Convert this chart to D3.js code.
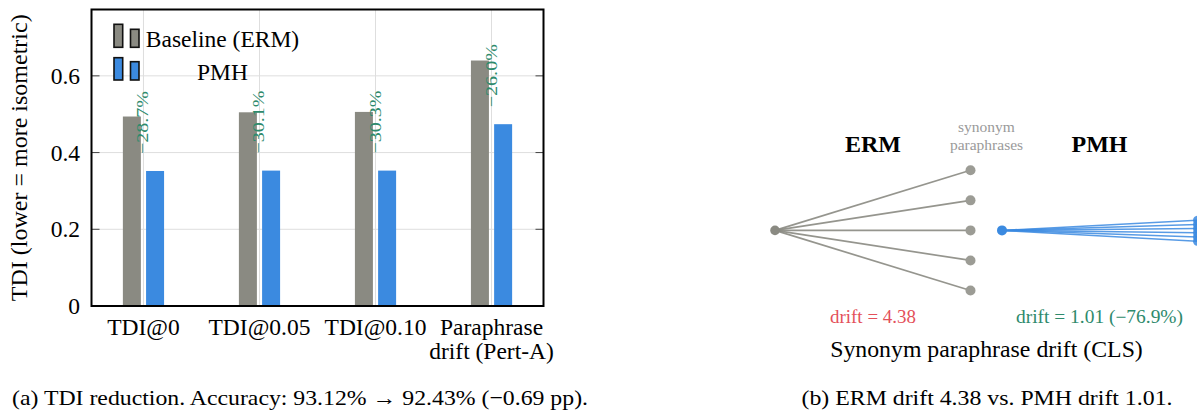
<!DOCTYPE html>
<html>
<head>
<meta charset="utf-8">
<script src="https://cdn.jsdelivr.net/npm/d3@7/dist/d3.min.js"></script>
<style>
  html, body { margin: 0; padding: 0; background: #fff; }
  svg { display: block; }
</style>
</head>
<body>
<svg id="fig" width="1197" height="411"></svg>
<script>
// ---- Panel (a): TDI per setting ----
const categories = [["TDI@0"], ["TDI@0.05"], ["TDI@0.10"], ["Paraphrase", "drift (Pert-A)"]];
const ermValues = [0.494, 0.505, 0.506, 0.640];
const pmhValues = [0.352, 0.353, 0.353, 0.474];
const reductionLabels = ["\u221228.7%", "\u221230.1%", "\u221230.3%", "\u221226.0%"];
const yTicks = [0, 0.2, 0.4, 0.6];
const yTickLabels = ["0", "0.2", "0.4", "0.6"];
const seriesNames = ["Baseline (ERM)", "PMH"];
const yAxisTitle = "TDI (lower = more isometric)";

// ---- Panel (b): paraphrase fan ----
const ermParaphraseOffsets = [-2, -1, 0, 1, 2];
const pmhParaphraseOffsets = [-0.34, -0.2, -0.06, 0.08, 0.22, 0.36];
const driftLabels = ["drift = 4.38", "drift = 1.01 (\u221276.9%)"];
const panelBTitle = "Synonym paraphrase drift (CLS)";

const captions = [
  "(a) TDI reduction. Accuracy: 93.12% \u2192 92.43% (\u22120.69 pp).",
  "(b) ERM drift 4.38 vs. PMH drift 1.01."
];

const C = {
  erm: "#8a8a82",
  ermDot: "#9c9c95",
  pmh: "#3b8ae0",
  green: "#2e8a6c",
  red: "#e4505a",
  grid: "#dedede",
  note: "#9a9a9a"
};

const SERIF = "Liberation Serif";
const svg = d3.select("#fig");

// every text element gets the serif face explicitly
function label(parent) {
  return parent.append("text").attr("font-family", SERIF);
}

// ================= Panel (a) =================
const frame = { left: 91.5, right: 543.5, top: 9.5, bottom: 306 };
const x = d3.scaleLinear().domain([-0.448, categories.length - 1 + 0.448]).range([frame.left, frame.right]);
const y = d3.scaleLinear().domain([0, 0.773]).range([frame.bottom, frame.top]);
const barW = 18, gap = 2.6;

const a = svg.append("g");

// grid
a.append("g").selectAll("line").data(yTicks.filter(d => d > 0)).join("line")
  .attr("x1", frame.left).attr("x2", frame.right)
  .attr("y1", d => y(d)).attr("y2", d => y(d))
  .attr("stroke", C.grid).attr("stroke-width", 1);
a.append("g").selectAll("line").data(categories).join("line")
  .attr("x1", (d, i) => x(i)).attr("x2", (d, i) => x(i))
  .attr("y1", frame.top).attr("y2", frame.bottom)
  .attr("stroke", C.grid).attr("stroke-width", 1);

// bars
a.append("g").selectAll("rect").data(ermValues).join("rect")
  .attr("x", (d, i) => x(i) - gap - barW).attr("width", barW)
  .attr("y", d => y(d)).attr("height", d => y(0) - y(d))
  .attr("fill", C.erm);
a.append("g").selectAll("rect").data(pmhValues).join("rect")
  .attr("x", (d, i) => x(i) + gap).attr("width", barW)
  .attr("y", d => y(d)).attr("height", d => y(0) - y(d))
  .attr("fill", C.pmh);

// reduction labels
a.append("g").selectAll("text").data(reductionLabels).join("text")
  .attr("font-family", SERIF)
  .attr("transform", (d, i) => `translate(${x(i) - 0.5},${y(pmhValues[i]) - 17}) rotate(-90)`)
  .attr("text-anchor", "start").attr("dominant-baseline", "central")
  .attr("font-size", 17).attr("fill", C.green)
  .attr("textLength", 63).attr("lengthAdjust", "spacingAndGlyphs")
  .text(d => d);

// tick marks (left and right, inward)
const tickG = a.append("g").attr("stroke", "#444").attr("stroke-width", 1);
yTicks.filter(d => d > 0).forEach(t => {
  tickG.append("line").attr("x1", frame.left).attr("x2", frame.left + 8).attr("y1", y(t)).attr("y2", y(t));
  tickG.append("line").attr("x1", frame.right - 8).attr("x2", frame.right).attr("y1", y(t)).attr("y2", y(t));
});

// frame
a.append("rect")
  .attr("x", frame.left).attr("y", frame.top)
  .attr("width", frame.right - frame.left).attr("height", frame.bottom - frame.top)
  .attr("fill", "none").attr("stroke", "#000").attr("stroke-width", 2);

// y tick labels
a.append("g").selectAll("text").data(yTicks).join("text")
  .attr("font-family", SERIF)
  .attr("x", 80).attr("y", d => y(d)).attr("dy", "0.34em")
  .attr("text-anchor", "end").attr("font-size", 23.5)
  .text((d, i) => yTickLabels[i]);

// x tick labels
const xl = a.append("g").selectAll("text").data(categories).join("text")
  .attr("font-family", SERIF)
  .attr("text-anchor", "middle").attr("font-size", 23.5)
  .attr("x", (d, i) => x(i)).attr("y", 335);
xl.selectAll("tspan").data(d => d).join("tspan")
  .attr("font-family", SERIF)
  .attr("x", function () { return d3.select(this.parentNode).attr("x"); })
  .attr("dy", (d, j) => j === 0 ? 0 : 23.5)
  .text(d => d);

// y axis title
label(a)
  .attr("transform", `translate(27,${(frame.top + frame.bottom) / 2}) rotate(-90)`)
  .attr("text-anchor", "middle").attr("font-size", 24)
  .text(yAxisTitle);

// legend
const legend = a.append("g");
const legendRows = [
  { fill: C.erm, top1: 24.3, top2: 29.3, bottom: 47.3 },
  { fill: C.pmh, top1: 57.7, top2: 61.7, bottom: 80 }
];
legendRows.forEach(r => {
  legend.append("rect").attr("x", 114).attr("y", r.top1).attr("width", 8.7).attr("height", r.bottom - r.top1)
    .attr("fill", r.fill).attr("stroke", "#111").attr("stroke-width", 1.6);
  legend.append("rect").attr("x", 130.5).attr("y", r.top2).attr("width", 8.5).attr("height", r.bottom - r.top2)
    .attr("fill", r.fill).attr("stroke", "#111").attr("stroke-width", 1.6);
});
label(legend).attr("x", 222.5).attr("y", 47.3).attr("text-anchor", "middle")
  .attr("font-size", 23.5).text(seriesNames[0]);
label(legend).attr("x", 222.5).attr("y", 80).attr("text-anchor", "middle")
  .attr("font-size", 23.5).text(seriesNames[1]);

// ================= Panel (b) =================
const b = svg.append("g");
const fanY = d3.scaleLinear().domain([-2, 2]).range([170.3, 290.5]);
const fanLen = 195.5;
const ermOrigin = { x: 775, y: fanY(0) };
const pmhOrigin = { x: 1002, y: fanY(0) };

// ERM fan
b.append("g").selectAll("line").data(ermParaphraseOffsets).join("line")
  .attr("x1", ermOrigin.x).attr("y1", ermOrigin.y)
  .attr("x2", ermOrigin.x + fanLen).attr("y2", d => fanY(d))
  .attr("stroke", C.erm).attr("stroke-width", 1.7).attr("stroke-opacity", 0.9);
b.append("g").selectAll("circle").data(ermParaphraseOffsets).join("circle")
  .attr("cx", ermOrigin.x + fanLen).attr("cy", d => fanY(d)).attr("r", 5)
  .attr("fill", C.ermDot);
b.append("circle").attr("cx", ermOrigin.x).attr("cy", ermOrigin.y).attr("r", 4.8).attr("fill", C.erm);

// PMH fan
b.append("g").selectAll("line").data(pmhParaphraseOffsets).join("line")
  .attr("x1", pmhOrigin.x).attr("y1", pmhOrigin.y)
  .attr("x2", pmhOrigin.x + fanLen).attr("y2", d => fanY(d))
  .attr("stroke", C.pmh).attr("stroke-width", 1.5).attr("stroke-opacity", 0.85);
b.append("g").selectAll("circle").data(pmhParaphraseOffsets).join("circle")
  .attr("cx", pmhOrigin.x + fanLen).attr("cy", d => fanY(d)).attr("r", 4.5)
  .attr("fill", C.pmh).attr("fill-opacity", 0.85);
b.append("circle").attr("cx", pmhOrigin.x).attr("cy", pmhOrigin.y).attr("r", 5).attr("fill", C.pmh);

// headings
label(b).attr("x", 873).attr("y", 152).attr("text-anchor", "middle")
  .attr("font-size", 24).attr("font-weight", "bold").text("ERM");
label(b).attr("x", 1099.5).attr("y", 152).attr("text-anchor", "middle")
  .attr("font-size", 24).attr("font-weight", "bold").text("PMH");
label(b).attr("x", 986.5).attr("y", 132).attr("text-anchor", "middle")
  .attr("font-size", 15.5).attr("fill", C.note).text("synonym");
label(b).attr("x", 986.5).attr("y", 149.5).attr("text-anchor", "middle")
  .attr("font-size", 15.5).attr("fill", C.note).text("paraphrases");

// drift values
label(b).attr("x", 873).attr("y", 323).attr("text-anchor", "middle")
  .attr("font-size", 18).attr("fill", C.red)
  .attr("textLength", 86).attr("lengthAdjust", "spacingAndGlyphs").text(driftLabels[0]);
label(b).attr("x", 1099.5).attr("y", 323).attr("text-anchor", "middle")
  .attr("font-size", 18).attr("fill", C.green)
  .attr("textLength", 167).attr("lengthAdjust", "spacingAndGlyphs").text(driftLabels[1]);

label(b).attr("x", 986.5).attr("y", 357).attr("text-anchor", "middle")
  .attr("font-size", 23.8).text(panelBTitle);

// ================= Captions =================
label(svg).attr("x", 12).attr("y", 404.5).attr("font-size", 21.5)
  .attr("textLength", 576).attr("lengthAdjust", "spacingAndGlyphs").text(captions[0]);
label(svg).attr("x", 801.5).attr("y", 404.5).attr("font-size", 21.5)
  .attr("textLength", 371).attr("lengthAdjust", "spacingAndGlyphs").text(captions[1]);
</script>
</body>
</html>
